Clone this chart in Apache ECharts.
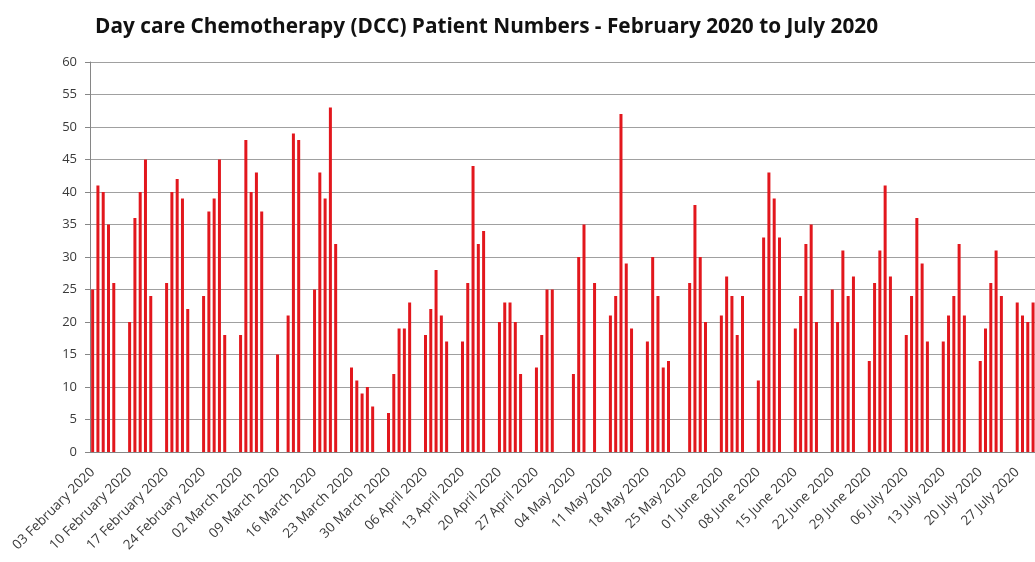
<!DOCTYPE html>
<html>
<head>
<meta charset="utf-8">
<title>DCC Patient Numbers</title>
<script src="https://cdn.jsdelivr.net/npm/echarts@6/dist/echarts.min.js"></script>
<style>
    html, body { margin: 0; padding: 0; background: #fff; }
    #dcc_bars { width: 1035px; height: 562px; }
</style>
</head>
<body>
<div id="dcc_bars"></div>
<script>

// Data
// ------------------------------

// Monday of every week (x axis labels)
var weekStarts = [
    '03 February 2020', '10 February 2020', '17 February 2020', '24 February 2020',
    '02 March 2020', '09 March 2020', '16 March 2020', '23 March 2020', '30 March 2020',
    '06 April 2020', '13 April 2020', '20 April 2020', '27 April 2020',
    '04 May 2020', '11 May 2020', '18 May 2020', '25 May 2020',
    '01 June 2020', '08 June 2020', '15 June 2020', '22 June 2020', '29 June 2020',
    '06 July 2020', '13 July 2020', '20 July 2020', '27 July 2020'
];

// Patients per weekday (Mon..Fri), null = no clinic
var weeklyPatients = [
    [25, 41, 40, 35, 26],
    [20, 36, 40, 45, 24],
    [26, 40, 42, 39, 22],
    [24, 37, 39, 45, 18],
    [18, 48, 40, 43, 37],
    [15, null, 21, 49, 48],
    [25, 43, 39, 53, 32],
    [13, 11, 9, 10, 7],
    [6, 12, 19, 19, 23],
    [18, 22, 28, 21, 17],
    [17, 26, 44, 32, 34],
    [20, 23, 23, 20, 12],
    [13, 18, 25, 25, null],
    [12, 30, 35, null, 26],
    [21, 24, 52, 29, 19],
    [17, 30, 24, 13, 14],
    [null, 26, 38, 30, 20],
    [21, 27, 24, 18, 24],
    [11, 33, 43, 39, 33],
    [19, 24, 32, 35, 20],
    [25, 20, 31, 24, 27],
    [14, 26, 31, 41, 27],
    [18, 24, 36, 29, 17],
    [17, 21, 24, 32, 21],
    [14, 19, 26, 31, 24],
    [23, 21, 20, 23, null]
];

var yTicks = { min: 0, max: 60, step: 5 };


// Setup module
// ------------------------------

var EchartsDccBars = function() {

    var _dccBarsExample = function() {
        if (typeof echarts == 'undefined') {
            console.warn('Warning - echarts.min.js is not loaded.');
            return;
        }

        var dcc_element = document.getElementById('dcc_bars');
        if (!dcc_element) {
            return;
        }

        // Expand weeks into days (weekends stay empty)
        var days = [],
            values = [];
        weekStarts.forEach(function(label, w) {
            for (var d = 0; d < 7; d++) {
                days.push(d === 0 ? label : label + '+' + d);
                values.push(d < 5 ? weeklyPatients[w][d] : null);
            }
        });
        // chart ends on the Friday of the last week
        days = days.slice(0, days.length - 2);
        values = values.slice(0, values.length - 2);

        var dcc_bars = echarts.init(dcc_element);

        // Styles
        var fontFamily = '"Open Sans", "Noto Sans", sans-serif',
            labelColor = '#3a3a3a',
            axisLineColor = '#868686',
            splitLineColor = '#a0a0a0',
            barColor = '#e2171d';

        dcc_bars.setOption({
            animation: false,

            textStyle: {
                fontFamily: fontFamily
            },

            title: {
                text: 'Day care Chemotherapy (DCC) Patient Numbers - February 2020 to July 2020',
                left: 90,
                top: 12,
                textStyle: {
                    fontFamily: fontFamily,
                    fontSize: 20.8,
                    fontWeight: 'bold',
                    color: '#111'
                }
            },

            // plot runs a little past the right edge of the picture
            grid: {
                left: 90,
                right: -6,
                top: 62,
                height: 390,
                containLabel: false,
                outerBoundsMode: 'none'
            },

            xAxis: {
                type: 'category',
                data: days,
                boundaryGap: true,
                axisLine: {
                    lineStyle: { color: axisLineColor }
                },
                axisTick: {
                    interval: 6,
                    length: 5,
                    lineStyle: { color: axisLineColor }
                },
                axisLabel: {
                    interval: 6,
                    rotate: 45,
                    margin: 18,
                    fontSize: 13.5,
                    color: labelColor,
                    formatter: function(v) {
                        return v.indexOf('+') === -1 ? v : '';
                    }
                },
                splitLine: { show: false }
            },

            yAxis: {
                type: 'value',
                min: yTicks.min,
                max: yTicks.max,
                interval: yTicks.step,
                axisLine: {
                    show: true,
                    lineStyle: { color: axisLineColor }
                },
                axisTick: {
                    show: true,
                    length: 5,
                    lineStyle: { color: axisLineColor }
                },
                axisLabel: {
                    margin: 13,
                    fontSize: 13,
                    color: labelColor
                },
                splitLine: {
                    show: true,
                    lineStyle: { color: splitLineColor, width: 1 }
                }
            },

            series: [
                {
                    name: 'Patients',
                    type: 'bar',
                    data: values,
                    barWidth: 3,
                    itemStyle: {
                        color: barColor
                    }
                }
            ]
        });
    };

    return {
        init: function() {
            _dccBarsExample();
        }
    }
}();


// Initialize module
// ------------------------------

document.addEventListener('DOMContentLoaded', function() {
    EchartsDccBars.init();
});
</script>
</body>
</html>
